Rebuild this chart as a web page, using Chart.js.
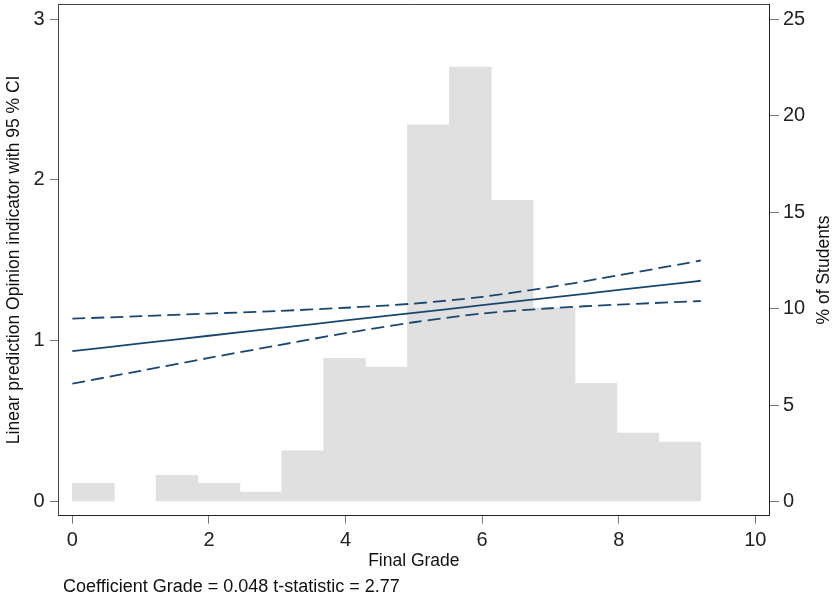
<!DOCTYPE html>
<html>
<head>
<meta charset="utf-8">
<script src="https://cdn.jsdelivr.net/npm/chart.js@4.4.0/dist/chart.umd.min.js"></script>
<style>
  html, body { margin: 0; padding: 0; background: #fff; }
  #wrap { width: 835px; height: 599px; }
</style>
</head>
<body>
<div id="wrap"><canvas id="grade-chart"></canvas></div>
<script>
// Histogram of final grades (% of students), bin centres, width 9.2 / 15
// (the second bin is empty)
const binCenters = [0.307, 0.920, 1.533, 2.147, 2.760, 3.373, 3.987, 4.600,
  5.213, 5.827, 6.440, 7.053, 7.667, 8.280, 8.893];
const binPercent = [0.94, null, 1.36, 0.94, 0.49, 2.63, 7.42, 6.96,
  19.52, 22.51, 15.61, 10.03, 6.13, 3.54, 3.08];

// Linear fit and 95% CI
const fitX = [0, 1, 2, 3, 4, 5, 6, 7, 8, 9, 9.2];
const fitY = [0.935, 0.983, 1.031, 1.078, 1.126, 1.173, 1.221, 1.268, 1.316, 1.363, 1.373];
const ciUpper = [1.137, 1.153, 1.169, 1.185, 1.205, 1.231, 1.273, 1.334, 1.407, 1.483, 1.499];
const ciLower = [0.733, 0.813, 0.893, 0.971, 1.047, 1.115, 1.169, 1.202, 1.225, 1.243, 1.247];

// Tick labels
const xTicks = [0, 2, 4, 6, 8, 10];
const yLeftTicks = [0, 1, 2, 3];
const yRightTicks = [0, 5, 10, 15, 20, 25];

const NAVY = '#1a476f';
const FONT = '"Liberation Sans", Arial, sans-serif';

const toPoints = (xs, ys) => xs.map((x, i) => ({ x, y: ys[i] }));

function fixedTicks(list) {
  return (scale) => { scale.ticks = list.map(v => ({ value: v })); };
}

// keep the plot box exactly where the axes say, no label overhang padding
function fixedSize(dim, size) {
  return (s) => {
    s[dim] = size;
    s.paddingTop = 0;
    s.paddingBottom = 0;
    s.paddingLeft = 0;
    s.paddingRight = 0;
  };
}

// frame top line, right-hand title and the footnote
const extras = {
  id: 'extras',
  afterDraw(chart) {
    const { ctx, chartArea } = chart;
    ctx.save();
    ctx.strokeStyle = '#444';
    ctx.lineWidth = 1;
    ctx.beginPath();
    ctx.moveTo(chartArea.left, chartArea.top + 0.5);
    ctx.lineTo(chartArea.right, chartArea.top + 0.5);
    ctx.stroke();

    ctx.fillStyle = '#111';
    ctx.font = '17.5px ' + FONT;
    ctx.textBaseline = 'middle';

    ctx.save();
    ctx.translate(824, 270);
    ctx.rotate(-Math.PI / 2);
    ctx.textAlign = 'center';
    ctx.fillText('% of Students', 0, 0);
    ctx.restore();

    ctx.font = '18px ' + FONT;
    ctx.textAlign = 'left';
    ctx.fillText('Coefficient Grade = 0.048 t-statistic = 2.77', 63, 587);
    ctx.restore();
  },
};

const lineCommon = {
  type: 'line',
  yAxisID: 'y',
  borderColor: NAVY,
  borderWidth: 1.8,
  pointRadius: 0,
  tension: 0.3,
  fill: false,
  order: 1,
};

new Chart(document.getElementById('grade-chart'), {
  type: 'bar',
  data: {
    datasets: [
      { ...lineCommon, label: 'Fit', data: toPoints(fitX, fitY) },
      { ...lineCommon, label: 'Upper CI', data: toPoints(fitX, ciUpper), borderDash: [13, 6] },
      { ...lineCommon, label: 'Lower CI', data: toPoints(fitX, ciLower), borderDash: [13, 6] },
      {
        type: 'bar',
        label: '% of Students',
        yAxisID: 'y2',
        data: toPoints(binCenters, binPercent),
        backgroundColor: '#e0e0e0',
        borderWidth: 0,
        barPercentage: 1,
        categoryPercentage: 1,
        grouped: false,
        order: 2,
      },
    ],
  },
  options: {
    responsive: true,
    maintainAspectRatio: false,
    animation: false,
    layout: { padding: { left: 0, right: 0, top: 4, bottom: 23.3 } },
    plugins: {
      legend: { display: false },
      tooltip: { enabled: false },
    },
    scales: {
      x: {
        type: 'linear',
        min: -0.2,
        max: 10.2,
        offset: false,
        afterBuildTicks: fixedTicks(xTicks),
        afterFit: fixedSize('height', 60),
        grid: { drawOnChartArea: false, offset: false, tickLength: 8, color: '#777' },
        border: { display: true, color: '#222', width: 1 },
        ticks: { font: { family: FONT, size: 20 }, color: '#222', padding: 5, maxRotation: 0 },
        title: { display: true, text: 'Final Grade', font: { family: FONT, size: 17.5 }, color: '#111', padding: { top: 4, bottom: 4 } },
      },
      y: {
        type: 'linear',
        position: 'left',
        min: -0.088,
        max: 3.094,
        afterBuildTicks: fixedTicks(yLeftTicks),
        afterFit: fixedSize('width', 58.7),
        grid: { drawOnChartArea: false, tickLength: 9, color: '#777' },
        border: { display: true, color: '#444', width: 1 },
        ticks: { font: { family: FONT, size: 20 }, color: '#222', padding: 5 },
        title: { display: true, text: 'Linear prediction Opinion indicator with 95 % CI', font: { family: FONT, size: 17.5 }, color: '#111', padding: { top: 4, bottom: 4 } },
      },
      y2: {
        type: 'linear',
        position: 'right',
        min: -0.735,
        max: 25.78,
        afterBuildTicks: fixedTicks(yRightTicks),
        afterFit: fixedSize('width', 66),
        grid: { drawOnChartArea: false, tickLength: 10, color: '#777' },
        border: { display: true, color: '#222', width: 1 },
        ticks: { font: { family: FONT, size: 20 }, color: '#222', padding: 4 },
        title: { display: false },
      },
    },
  },
  plugins: [extras],
});
</script>
</body>
</html>
